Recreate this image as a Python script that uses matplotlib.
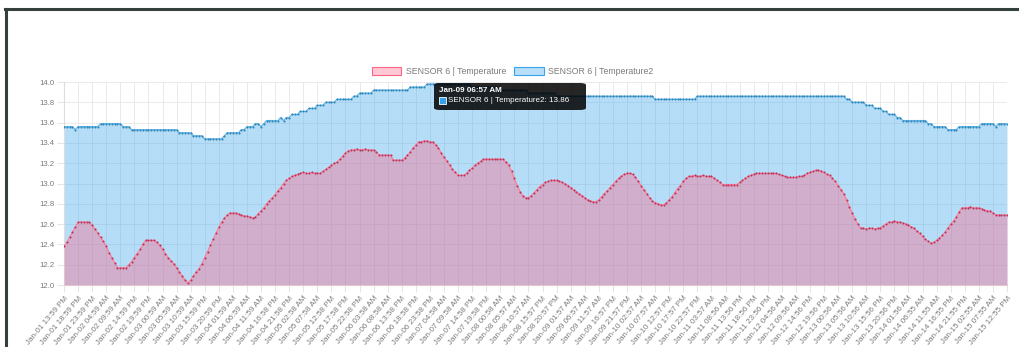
import matplotlib.pyplot as plt
import numpy as np
from matplotlib.patches import Patch, FancyBboxPatch, Rectangle
from matplotlib.lines import Line2D

plt.rcParams['font.family'] = ['Liberation Sans', 'DejaVu Sans']

# hourly readings, SENSOR 6 | Temperature
temp = [
    12.38, 12.42, 12.47, 12.52, 12.57, 12.62, 12.62, 12.62, 12.62, 12.62,
    12.59, 12.55, 12.51, 12.47, 12.43, 12.38, 12.32, 12.27, 12.22, 12.17,
    12.17, 12.17, 12.17, 12.20, 12.23, 12.27, 12.31, 12.35, 12.40, 12.44,
    12.44, 12.44, 12.44, 12.42, 12.39, 12.35, 12.31, 12.27, 12.24, 12.21,
    12.17, 12.13, 12.09, 12.05, 12.02, 12.05, 12.09, 12.13, 12.16, 12.21,
    12.27, 12.33, 12.39, 12.45, 12.51, 12.57, 12.62, 12.66, 12.69, 12.71,
    12.71, 12.71, 12.70, 12.69, 12.68, 12.68, 12.67, 12.66, 12.67, 12.70,
    12.73, 12.76, 12.80, 12.83, 12.86, 12.89, 12.93, 12.96, 13.00, 13.03,
    13.05, 13.07, 13.08, 13.09, 13.10, 13.11, 13.10, 13.10, 13.11, 13.10,
    13.10, 13.10, 13.12, 13.14, 13.16, 13.18, 13.20, 13.21, 13.24, 13.27,
    13.30, 13.32, 13.33, 13.33, 13.34, 13.33, 13.33, 13.34, 13.33, 13.33,
    13.33, 13.31, 13.28, 13.28, 13.28, 13.28, 13.28, 13.23, 13.23, 13.23,
    13.23, 13.25, 13.28, 13.31, 13.35, 13.38, 13.41, 13.41, 13.42, 13.42,
    13.41, 13.41, 13.38, 13.35, 13.30, 13.26, 13.22, 13.18, 13.14, 13.11,
    13.08, 13.08, 13.08, 13.10, 13.13, 13.15, 13.18, 13.20, 13.22, 13.24,
    13.24, 13.24, 13.24, 13.24, 13.24, 13.24, 13.24, 13.21, 13.18, 13.12,
    13.05, 12.98, 12.92, 12.88, 12.86, 12.86, 12.88, 12.91, 12.94, 12.97,
    12.99, 13.01, 13.02, 13.03, 13.03, 13.03, 13.02, 13.01, 13.00, 12.98,
    12.96, 12.94, 12.92, 12.90, 12.88, 12.86, 12.84, 12.83, 12.82, 12.82,
    12.84, 12.87, 12.90, 12.93, 12.96, 12.99, 13.02, 13.05, 13.07, 13.09,
    13.10, 13.10, 13.09, 13.06, 13.02, 12.98, 12.94, 12.90, 12.86, 12.83,
    12.81, 12.80, 12.79, 12.79, 12.81, 12.84, 12.87, 12.91, 12.95, 12.98,
    13.02, 13.05, 13.07, 13.07, 13.08, 13.07, 13.07, 13.08, 13.07, 13.07,
    13.07, 13.05, 13.03, 13.01, 12.99, 12.99, 12.99, 12.99, 12.99, 12.99,
    13.01, 13.03, 13.05, 13.07, 13.08, 13.09, 13.10, 13.10, 13.10, 13.10,
    13.10, 13.10, 13.10, 13.10, 13.09, 13.08, 13.07, 13.06, 13.06, 13.06,
    13.06, 13.07, 13.07, 13.08, 13.10, 13.11, 13.12, 13.13, 13.13, 13.12,
    13.11, 13.09, 13.08, 13.05, 13.02, 12.98, 12.94, 12.90, 12.84, 12.77,
    12.71, 12.65, 12.60, 12.56, 12.56, 12.55, 12.56, 12.56, 12.55, 12.56,
    12.56, 12.58, 12.60, 12.62, 12.62, 12.63, 12.62, 12.62, 12.61, 12.60,
    12.59, 12.57, 12.56, 12.53, 12.51, 12.48, 12.45, 12.43, 12.41, 12.42,
    12.44, 12.46, 12.49, 12.52, 12.56, 12.60, 12.63, 12.67, 12.72, 12.76,
    12.76, 12.76, 12.77, 12.76, 12.76, 12.76, 12.75, 12.74, 12.73, 12.73,
    12.71, 12.69, 12.69, 12.69, 12.69, 12.69,
]

# SENSOR 6 | Temperature2 moves in 0.03 steps: (value, hours held)
temp2_runs = [
    (13.56, 4), (13.53, 1), (13.56, 8), (13.59, 8), (13.56, 3), (13.53, 17),
    (13.50, 5), (13.47, 4), (13.44, 7), (13.47, 1), (13.50, 5), (13.53, 2),
    (13.56, 3), (13.59, 2), (13.56, 1), (13.59, 1), (13.62, 5), (13.65, 1),
    (13.62, 1), (13.65, 2), (13.68, 3), (13.71, 3), (13.74, 3), (13.77, 3),
    (13.80, 4), (13.83, 6), (13.86, 2), (13.89, 5), (13.92, 13), (13.95, 6),
    (13.98, 16), (13.95, 10), (13.92, 10), (13.89, 10), (13.86, 35),
    (13.83, 15), (13.86, 53), (13.83, 2), (13.80, 5), (13.77, 3), (13.74, 3),
    (13.71, 2), (13.68, 3), (13.65, 2), (13.62, 9), (13.59, 2), (13.56, 5),
    (13.53, 4), (13.56, 8), (13.59, 5), (13.56, 1), (13.59, 4),
]

# every 5th timestamp gets a label
tick_labels = [
    'Jan-01 13:59 PM', 'Jan-01 18:59 PM', 'Jan-01 23:59 PM', 'Jan-02 04:59 AM',
    'Jan-02 09:59 AM', 'Jan-02 14:59 PM', 'Jan-02 19:59 PM', 'Jan-03 00:59 AM',
    'Jan-03 05:59 AM', 'Jan-03 10:59 AM', 'Jan-03 15:59 PM', 'Jan-03 20:59 PM',
    'Jan-04 01:59 AM', 'Jan-04 06:59 AM', 'Jan-04 11:59 AM', 'Jan-04 16:58 PM',
    'Jan-04 21:58 PM', 'Jan-05 02:58 AM', 'Jan-05 07:58 AM', 'Jan-05 12:58 PM',
    'Jan-05 17:58 PM', 'Jan-05 22:58 PM', 'Jan-06 03:58 AM', 'Jan-06 08:58 AM',
    'Jan-06 13:58 PM', 'Jan-06 18:58 PM', 'Jan-06 23:58 PM', 'Jan-07 04:58 AM',
    'Jan-07 09:58 AM', 'Jan-07 14:58 PM', 'Jan-07 19:58 PM', 'Jan-08 00:58 AM',
    'Jan-08 05:57 AM', 'Jan-08 10:57 AM', 'Jan-08 15:57 PM', 'Jan-08 20:57 PM',
    'Jan-09 01:57 AM', 'Jan-09 06:57 AM', 'Jan-09 11:57 AM', 'Jan-09 16:57 PM',
    'Jan-09 21:57 PM', 'Jan-10 02:57 AM', 'Jan-10 07:57 AM', 'Jan-10 12:57 PM',
    'Jan-10 17:57 PM', 'Jan-10 22:57 PM', 'Jan-11 03:57 AM', 'Jan-11 08:56 AM',
    'Jan-11 13:56 PM', 'Jan-11 18:56 PM', 'Jan-11 23:56 PM', 'Jan-12 04:56 AM',
    'Jan-12 09:56 AM', 'Jan-12 14:56 PM', 'Jan-12 19:56 PM', 'Jan-13 00:56 AM',
    'Jan-13 05:56 AM', 'Jan-13 10:56 AM', 'Jan-13 15:56 PM', 'Jan-13 20:56 PM',
    'Jan-14 01:56 AM', 'Jan-14 06:55 AM', 'Jan-14 11:55 AM', 'Jan-14 16:55 PM',
    'Jan-14 21:55 PM', 'Jan-15 02:55 AM', 'Jan-15 07:55 AM', 'Jan-15 12:55 PM',
]
label_step = 5
hover_idx = 37 * label_step  # Jan-09 06:57 AM

temp = np.array(temp)
temp2 = np.repeat([v for v, n in temp2_runs], [n for v, n in temp2_runs])
x = np.arange(len(temp))

pink = (1.0, 0.39, 0.52)
blue = (0.21, 0.64, 0.92)
txt = '#7a7a7a'

fig = plt.figure(figsize=(10.19, 3.47), dpi=100)
ax = fig.add_axes([64 / 1019, 1 - 285 / 347, 943 / 1019, 203 / 347])

ax.fill_between(x, 12.0, temp2, color=blue, alpha=0.36, lw=0, zorder=2)
ax.fill_between(x, 12.0, temp, color=pink, alpha=0.38, lw=0, zorder=3)
ax.plot(x, temp2, color='#5fb6ea', lw=0.9, marker='o', ms=1.5, mfc='#2f86b8',
        mec='none', zorder=4)
ax.plot(x, temp, color='#ff7d98', lw=0.9, marker='o', ms=1.5, mfc='#b8365c',
        mec='none', zorder=5)

ax.set_xlim(0, len(temp) - 1)
ax.set_ylim(12.0, 14.0)
ax.set_yticks(np.arange(12.0, 14.01, 0.2))
ax.set_yticklabels([f'{v:.1f}' for v in np.arange(12.0, 14.01, 0.2)])
ax.set_xticks(x[::label_step])
ax.set_xticklabels(tick_labels, rotation=50, ha='right', rotation_mode='anchor')
ax.tick_params(axis='both', colors='#e0e0e0', labelcolor=txt, labelsize=5.8,
               length=5, width=0.6, pad=2)
ax.tick_params(axis='y', labelsize=5.6)
ax.grid(True, color='#e6e6e6', lw=0.6, zorder=1)
ax.set_axisbelow(True)
for s in ax.spines.values():
    s.set_visible(False)
ax.spines['left'].set_visible(True)
ax.spines['bottom'].set_visible(True)
ax.spines['left'].set_color('#dddddd')
ax.spines['bottom'].set_color('#dddddd')

handles = [Patch(facecolor=(*pink, 0.35), edgecolor=pink, lw=0.8,
                 label='SENSOR 6 | Temperature'),
           Patch(facecolor=(*blue, 0.35), edgecolor=blue, lw=0.8,
                 label='SENSOR 6 | Temperature2')]
fig.legend(handles=handles, loc='center', bbox_to_anchor=(0.503, 0.795), ncol=2,
           frameon=False, fontsize=6.3, labelcolor=txt, handlelength=3.4,
           handleheight=1.1, handletextpad=0.5, columnspacing=0.9)

# hover tooltip
tip = FancyBboxPatch((434 / 1019, 1 - 110 / 347), 152 / 1019, 27 / 347,
                     boxstyle='round,pad=0,rounding_size=0.006',
                     transform=fig.transFigure, facecolor=(0, 0, 0, 0.85),
                     edgecolor='none', zorder=10)
fig.patches.append(tip)
fig.text(439 / 1019, 1 - 90 / 347, tick_labels[hover_idx // label_step],
         color='white', fontsize=5.8, fontweight='bold', va='center', zorder=11)
fig.patches.append(Rectangle((439 / 1019, 1 - 104 / 347), 7 / 1019, 7 / 347,
                             transform=fig.transFigure, facecolor=blue,
                             edgecolor='white', lw=0.6, zorder=11))
fig.text(448 / 1019, 1 - 100.5 / 347,
         f'SENSOR 6 | Temperature2: {temp2[hover_idx]:.2f}',
         color='white', fontsize=5.8, va='center', zorder=11)

# dark frame along the top and left edges
fig.add_artist(Line2D([5 / 1019, 1], [1 - 9 / 347, 1 - 9 / 347],
                      transform=fig.transFigure, color='#33403c', lw=2.2))
fig.add_artist(Line2D([6 / 1019, 6 / 1019], [0, 1 - 9 / 347],
                      transform=fig.transFigure, color='#33403c', lw=2.2))

fig.savefig('out.png', dpi=100)
